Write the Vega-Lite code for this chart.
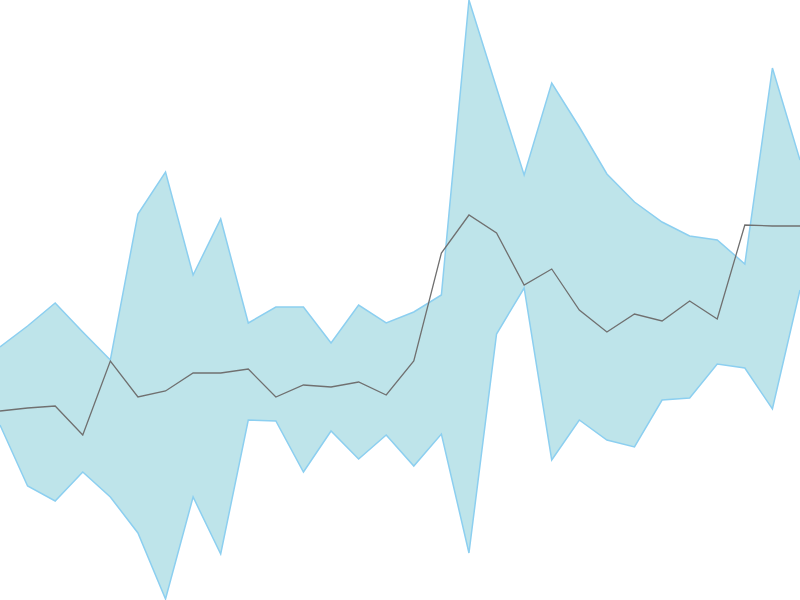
{
  "$schema": "https://vega.github.io/schema/vega-lite/v6.json",
  "width": 800, "height": 600,
  "autosize": {"type": "none"},
  "padding": 0,
  "config": {"view": {"stroke": null}},
  "data": {"values": [
    {"i": 0, "hi": 253, "lo": 175, "mid": 189},
    {"i": 1, "hi": 274, "lo": 114, "mid": 192},
    {"i": 2, "hi": 297, "lo": 99, "mid": 194},
    {"i": 3, "hi": 268, "lo": 128, "mid": 165},
    {"i": 4, "hi": 240, "lo": 103, "mid": 239},
    {"i": 5, "hi": 386, "lo": 67, "mid": 203},
    {"i": 6, "hi": 428, "lo": 1, "mid": 209},
    {"i": 7, "hi": 325, "lo": 103, "mid": 227},
    {"i": 8, "hi": 381, "lo": 46, "mid": 227},
    {"i": 9, "hi": 277, "lo": 180, "mid": 231},
    {"i": 10, "hi": 293, "lo": 179, "mid": 203},
    {"i": 11, "hi": 293, "lo": 128, "mid": 215},
    {"i": 12, "hi": 257, "lo": 169, "mid": 213},
    {"i": 13, "hi": 295, "lo": 141, "mid": 218},
    {"i": 14, "hi": 277, "lo": 165, "mid": 205},
    {"i": 15, "hi": 288, "lo": 134, "mid": 239},
    {"i": 16, "hi": 305, "lo": 166, "mid": 347},
    {"i": 17, "hi": 600, "lo": 47, "mid": 385},
    {"i": 18, "hi": 512, "lo": 266, "mid": 367},
    {"i": 19, "hi": 425, "lo": 312, "mid": 315},
    {"i": 20, "hi": 517, "lo": 140, "mid": 331},
    {"i": 21, "hi": 473, "lo": 180, "mid": 290},
    {"i": 22, "hi": 426, "lo": 160, "mid": 268},
    {"i": 23, "hi": 398, "lo": 153, "mid": 286},
    {"i": 24, "hi": 378, "lo": 200, "mid": 279},
    {"i": 25, "hi": 364, "lo": 202, "mid": 299},
    {"i": 26, "hi": 360, "lo": 236, "mid": 281},
    {"i": 27, "hi": 336, "lo": 232, "mid": 375},
    {"i": 28, "hi": 532, "lo": 191, "mid": 374},
    {"i": 29, "hi": 440, "lo": 310, "mid": 374}
  ]},
  "encoding": {
    "x": {"field": "i", "type": "quantitative", "scale": {"domain": [0, 29], "nice": false, "zero": false}, "axis": null}
  },
  "layer": [
    {
      "mark": {"type": "area", "color": "#bee4ea", "opacity": 1},
      "encoding": {
        "y": {"field": "hi", "type": "quantitative", "scale": {"domain": [0, 600], "nice": false}, "axis": null},
        "y2": {"field": "lo"}
      }
    },
    {
      "mark": {"type": "line", "color": "#8ccff0", "strokeWidth": 1.5},
      "encoding": {"y": {"field": "hi", "type": "quantitative"}}
    },
    {
      "mark": {"type": "line", "color": "#8ccff0", "strokeWidth": 1.5},
      "encoding": {"y": {"field": "lo", "type": "quantitative"}}
    },
    {
      "mark": {"type": "line", "color": "#707070", "strokeWidth": 1.3},
      "encoding": {"y": {"field": "mid", "type": "quantitative"}}
    }
  ]
}
